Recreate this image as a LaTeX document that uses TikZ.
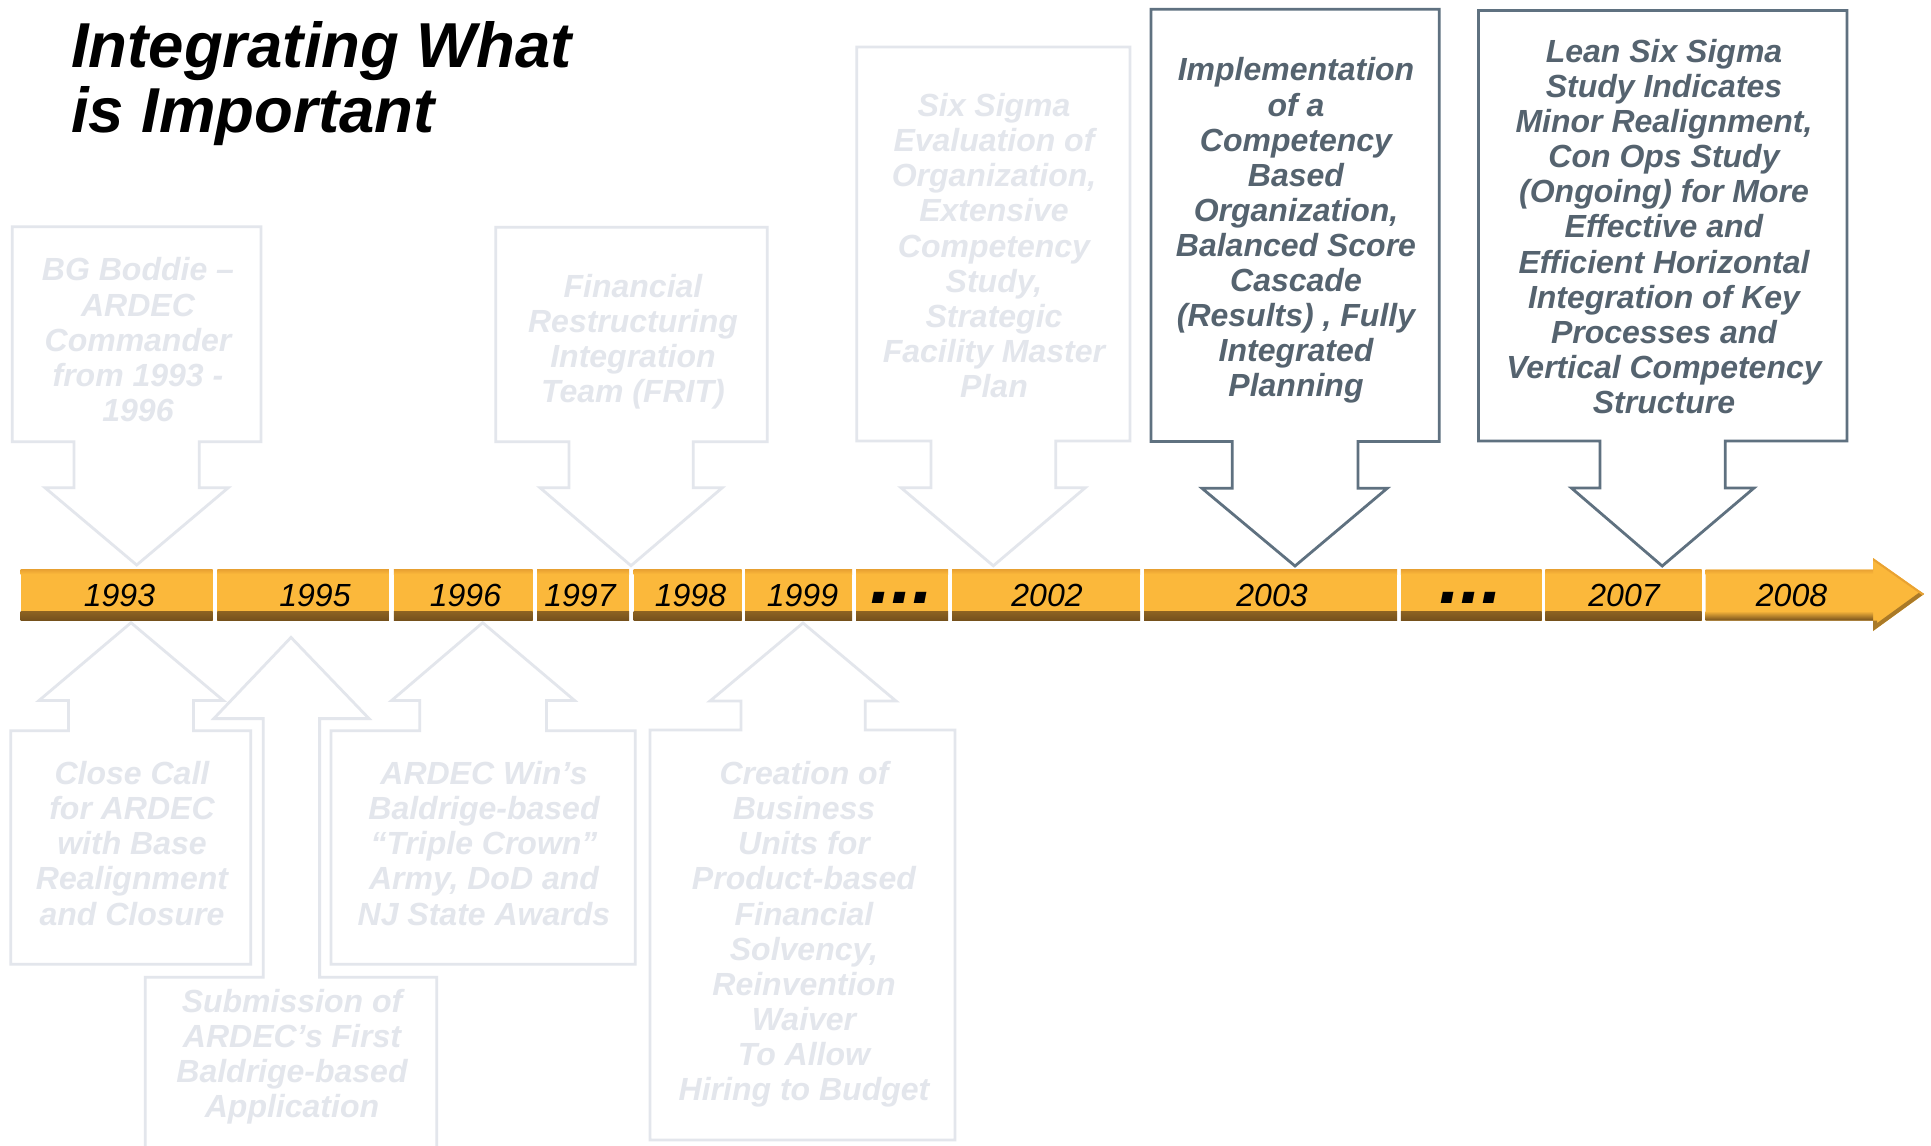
\documentclass[tikz,border=0pt]{standalone}
\usepackage{fontspec}
\setmainfont{Liberation Sans}
\definecolor{lightc}{HTML}{E3E6EC}
\definecolor{darkline}{HTML}{5F7180}
\definecolor{darktext}{HTML}{55636F}
\definecolor{barmain}{HTML}{FBB83B}
\definecolor{bartop}{HTML}{E9A232}
\definecolor{bardark}{HTML}{74501C}
\newcommand{\fl}{\rule{0pt}{24pt}}
\begin{document}
\begin{tikzpicture}[x=1pt,y=-1pt,
  seg/.style={rectangle, inner sep=0pt, minimum height=51pt, fill=barmain,
    path picture={
      \shade[top color=barmain, bottom color=bardark]
        ([yshift=9.5pt]path picture bounding box.south west) rectangle (path picture bounding box.south east);
      \shade[top color=bartop, bottom color=barmain]
        (path picture bounding box.north west) rectangle ([yshift=-4.5pt]path picture bounding box.north east);
    }},
  yearlbl/.style={font=\itshape\fontsize{32}{32}\selectfont, inner sep=0pt, anchor=base},
  dotlbl/.style={font=\bfseries\itshape\fontsize{75}{75}\selectfont, inner sep=0pt, anchor=base},
  ctext/.style={font=\bfseries\itshape\fontsize{32}{35.1}\selectfont, align=center, inner sep=0pt, anchor=north},
  lighttext/.style={ctext, text=lightc},
  darktxt/.style={ctext, text=darktext},
  lightbox/.style={draw=lightc, line width=2.8pt, line join=miter},
  darkbox/.style={draw=darkline, line width=2.8pt, line join=miter},
]
\useasboundingbox (0,0) rectangle (1931,1146);
\clip (0,0) rectangle (1931,1146);
\fill[white] (0,0) rectangle (1931,1146);

% Title
\node[anchor=north west, align=left, inner sep=0pt,
      font=\bfseries\itshape\fontsize{63.5}{65.5}\selectfont] (title) at (71,19)
  {\rule{0pt}{48pt}Integrating What\\is Important};

% ---------- Upper callouts (pointing down) ----------
\draw[lightbox] (12.3,226.7) -- (261,226.7) -- (261,441.7) -- (199.3,441.7) -- (199.3,487.7)
  -- (228.3,487.7) -- (136.7,565) -- (45,487.7) -- (74,487.7) -- (74,441.7) -- (12.3,441.7) -- cycle;
\node[lighttext] (boddie) at (138,256.7)
  {\fl BG Boddie –\\ARDEC\\Commander\\from 1993 -\\1996};

\draw[lightbox] (495.7,227.3) -- (767.3,227.3) -- (767.3,441.7) -- (693.3,441.7) -- (693.3,487.7)
  -- (722.3,487.7) -- (631,565.7) -- (540,487.7) -- (569,487.7) -- (569,441.7) -- (495.7,441.7) -- cycle;
\node[lighttext] (frit) at (633,273.3)
  {\fl Financial\\Restructuring\\Integration\\Team (FRIT)};

\draw[lightbox] (856.7,46.9) -- (1130,46.9) -- (1130,441) -- (1055.7,441) -- (1055.7,487.7)
  -- (1085.3,487.7) -- (993.3,565.8) -- (901,487.7) -- (931,487.7) -- (931,441) -- (856.7,441) -- cycle;
\node[lighttext] (sixsigma) at (994,92.4)
  {\fl Six Sigma\\Evaluation of\\Organization,\\Extensive\\Competency\\Study,\\Strategic\\Facility Master\\Plan};

\draw[darkbox] (1151,9.2) -- (1439.2,9.2) -- (1439.2,441.4) -- (1358,441.4) -- (1358,488.3)
  -- (1387.2,488.3) -- (1295,566) -- (1202,488.3) -- (1232.3,488.3) -- (1232.3,441.4) -- (1151,441.4) -- cycle;
\node[darktxt] (competency) at (1296,56.7)
  {\fl Implementation\\of a\\Competency\\Based\\Organization,\\Balanced Score\\Cascade\\(Results) , Fully\\Integrated\\Planning};

\draw[darkbox] (1478.5,10.4) -- (1846.9,10.4) -- (1846.9,441) -- (1725.3,441) -- (1725.3,488)
  -- (1754,488) -- (1662.2,566) -- (1571.4,488) -- (1600,488) -- (1600,441) -- (1478.5,441) -- cycle;
\node[darktxt] (lean) at (1664,38.2)
  {\fl Lean Six Sigma\\Study Indicates\\Minor Realignment,\\Con Ops Study\\(Ongoing) for More\\Effective and\\Efficient Horizontal\\Integration of Key\\Processes and\\Vertical Competency\\Structure};

% ---------- Lower callouts (pointing up) ----------
\draw[lightbox] (10.8,964.2) -- (10.8,730.7) -- (68.5,730.7) -- (68.5,700.5) -- (39,700.5)
  -- (131,622.7) -- (223.3,700.5) -- (193.4,700.5) -- (193.4,730.7) -- (250.7,730.7) -- (250.7,964.2) -- cycle;
\node[lighttext] (closecall) at (132,760.4)
  {\fl Close Call\\for ARDEC\\with Base\\Realignment\\and Closure};

\draw[lightbox] (145.3,1160) -- (145.3,977.3) -- (263.2,977.3) -- (263.2,718.6) -- (213.8,718.6)
  -- (291,637.4) -- (369,718.6) -- (319.6,718.6) -- (319.6,977.3) -- (436.7,977.3) -- (436.7,1160) -- cycle;
\node[lighttext] (submission) at (292,987.8)
  {\fl Submission of\\ARDEC’s First\\Baldrige-based\\Application};

\draw[lightbox] (330.9,964.2) -- (330.9,730.7) -- (419.8,730.7) -- (419.8,700.5) -- (391.6,700.5)
  -- (482.7,622.7) -- (574.6,700.5) -- (546.4,700.5) -- (546.4,730.7) -- (635.3,730.7) -- (635.3,964.2) -- cycle;
\node[lighttext] (ardecwin) at (484,760.4)
  {\fl ARDEC Win’s\\Baldrige-based\\“Triple Crown”\\Army, DoD and\\NJ State Awards};

\draw[lightbox] (650,1140) -- (650,730) -- (741,730) -- (741,701) -- (710,701)
  -- (803,623) -- (896,701) -- (865.3,701) -- (865.3,730) -- (955,730) -- (955,1140) -- cycle;
\node[lighttext] (creation) at (804,760.4)
  {\fl Creation of\\Business\\Units for\\Product-based\\Financial\\Solvency,\\Reinvention\\Waiver\\To Allow\\Hiring to Budget};

% ---------- Timeline bar ----------
\node[seg, minimum width=192pt]   (s1993) at (116.5,595) {};
\node[seg, minimum width=171.4pt] (s1995) at (303.1,595) {};
\node[seg, minimum width=138.8pt] (s1996) at (463.2,595) {};
\node[seg, minimum width=92pt]    (s1997) at (583,595) {};
\node[seg, minimum width=108pt]   (s1998) at (687.5,595) {};
\node[seg, minimum width=107pt]   (s1999) at (798.5,595) {};
\node[seg, minimum width=92pt]    (sdots1) at (902,595) {};
\node[seg, minimum width=188pt]   (s2002) at (1046,595) {};
\node[seg, minimum width=253pt]   (s2003) at (1270.5,595) {};
\node[seg, minimum width=140.8pt] (sdots2) at (1471.2,595) {};
\node[seg, minimum width=156.2pt] (s2007) at (1623.4,595) {};

% 2008 segment with arrow head
\fill[barmain] (1705.7,569.5) -- (1873,569.5) -- (1873,558) -- (1924,594) -- (1873,631)
  -- (1873,620.5) -- (1705.7,620.5) -- cycle;
\begin{scope}
  \clip (1705.7,569.5) -- (1873,569.5) -- (1873,558) -- (1924,594) -- (1873,631)
    -- (1873,620.5) -- (1705.7,620.5) -- cycle;
  \shade[top color=barmain, bottom color=bardark] (1705.7,611) rectangle (1873,620.5);
  \shade[top color=bartop, bottom color=barmain] (1705.7,569.5) rectangle (1873,574);
  \draw[bardark!60!barmain, line width=8pt] (1873,620.5) -- (1873,631) -- (1924,594);
  \draw[bartop, line width=4pt] (1873,558) -- (1924,594);
\end{scope}

% Year labels
\node[yearlbl] (t1993) at (119.5,606) {1993};
\node[yearlbl] (t1995) at (315,606) {1995};
\node[yearlbl] (t1996) at (465.5,606) {1996};
\node[yearlbl] (t1997) at (580,606) {1997};
\node[yearlbl] (t1998) at (690.5,606) {1998};
\node[yearlbl] (t1999) at (802.5,606) {1999};
\node[dotlbl]  (tdots1) at (902,603.3) {...};
\node[yearlbl] (t2002) at (1047,606) {2002};
\node[yearlbl] (t2003) at (1272,606) {2003};
\node[dotlbl]  (tdots2) at (1471,603.3) {...};
\node[yearlbl] (t2007) at (1624,606) {2007};
\node[yearlbl] (t2008) at (1791.5,606) {2008};
\end{tikzpicture}
\end{document}
